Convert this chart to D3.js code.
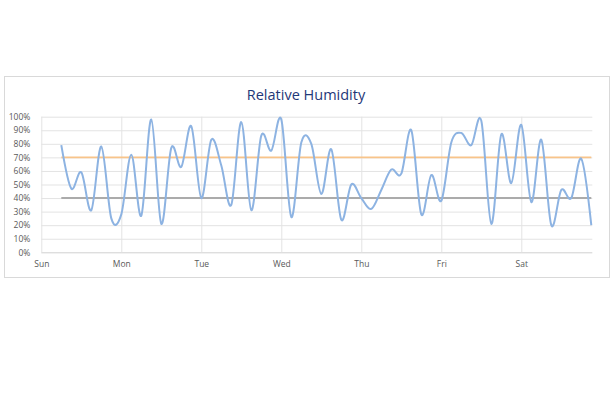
<!DOCTYPE html>
<html>
<head>
<meta charset="utf-8">
<script src="https://cdn.jsdelivr.net/npm/d3@7"></script>
<style>
  html, body { margin: 0; padding: 0; background: #fff; }
  svg { display: block; }
  text { font-family: "Open Sans", "Liberation Sans", sans-serif; }
</style>
</head>
<body>
<svg id="chart" width="612" height="396"></svg>
<script>
// ---- data ----
// hours since Sunday 00:00, every 3 hours from Sun 06:00 to Sat 21:00
const hours = d3.range(6, 166, 3);
const humidity = [
  79, 47, 59, 31, 78, 25, 28, 72, 27, 98,
  21, 77, 63, 93, 40, 83, 64, 35, 96, 31,
  86, 75, 98, 26, 81, 80, 43, 76, 24, 50,
  40, 32, 46, 61, 58, 90, 28, 57, 38, 81,
  88, 79, 97, 21, 87, 51, 94, 37, 83, 20,
  46, 40, 69, 20
];
const upperRef = 70;
const lowerRef = 40;
const dayLabels = ["Sun", "Mon", "Tue", "Wed", "Thu", "Fri", "Sat"];
const dayHours = [0, 24, 48, 72, 96, 120, 144];
const yTicks = [0, 10, 20, 30, 40, 50, 60, 70, 80, 90, 100];
const title = "Relative Humidity";

// ---- layout ----
const svg = d3.select("#chart");
const plot = { left: 41.3, right: 592.3, top: 116.7, bottom: 252.3 };

const x = d3.scaleLinear().domain([0, 165.3]).range([plot.left, plot.right]);
const y = d3.scaleLinear().domain([0, 100]).range([plot.bottom, plot.top]);

// chart border
svg.append("rect")
  .attr("x", 4.5).attr("y", 76.5)
  .attr("width", 605).attr("height", 201)
  .attr("fill", "#fff").attr("stroke", "#D9D9D9").attr("stroke-width", 1);

// title
svg.append("text")
  .attr("x", 306).attr("y", 100)
  .attr("text-anchor", "middle")
  .attr("font-size", 14.5)
  .attr("fill", "#1F3878")
  .text(title);

// horizontal gridlines
const yGrid = svg.append("g")
  .attr("transform", `translate(${plot.left},0)`)
  .call(d3.axisLeft(y).tickValues(yTicks).tickSize(-(plot.right - plot.left)).tickFormat(""));
yGrid.select(".domain").remove();
yGrid.selectAll(".tick line").attr("stroke", "#E3E3E3").attr("stroke-width", 1);
yGrid.selectAll(".tick").filter(d => d === 0).select("line").attr("stroke", "#D0D0D0");

// vertical gridlines
const xGrid = svg.append("g")
  .attr("transform", `translate(0,${plot.bottom})`)
  .call(d3.axisBottom(x).tickValues(dayHours).tickSize(-(plot.bottom - plot.top)).tickFormat(""));
xGrid.select(".domain").remove();
xGrid.selectAll(".tick line").attr("stroke", "#E3E3E3").attr("stroke-width", 1);

// y axis labels
const yAxis = svg.append("g")
  .attr("transform", `translate(${plot.left - 8},0)`)
  .call(d3.axisLeft(y).tickValues(yTicks).tickSize(0).tickFormat(d => d + "%"));
yAxis.select(".domain").remove();
yAxis.selectAll("text")
  .attr("font-family", "'Open Sans', 'Liberation Sans', sans-serif")
  .attr("font-size", 8.5).attr("fill", "#595959");

// x axis labels
const xAxis = svg.append("g")
  .attr("transform", `translate(0,${plot.bottom + 6})`)
  .call(d3.axisBottom(x).tickValues(dayHours).tickSize(0).tickFormat((d, i) => dayLabels[i]));
xAxis.select(".domain").remove();
xAxis.selectAll("text")
  .attr("font-family", "'Open Sans', 'Liberation Sans', sans-serif")
  .attr("font-size", 8.5).attr("fill", "#595959");

// reference lines
const refLine = d3.line().x(d => x(d[0])).y(d => y(d[1]));
svg.append("path")
  .datum(hours.map(h => [h, lowerRef]))
  .attr("d", refLine)
  .attr("fill", "none").attr("stroke", "#ABABAB").attr("stroke-width", 2);
svg.append("path")
  .datum(hours.map(h => [h, upperRef]))
  .attr("d", refLine)
  .attr("fill", "none").attr("stroke", "#F8C48A").attr("stroke-width", 1.6);

// humidity line
const line = d3.line()
  .x((d, i) => x(hours[i]))
  .y(d => y(d))
  .curve(d3.curveCardinal.tension(0));
svg.append("path")
  .datum(humidity)
  .attr("d", line)
  .attr("fill", "none")
  .attr("stroke", "#8DB3E2")
  .attr("stroke-width", 2)
  .attr("stroke-linejoin", "round");
</script>
</body>
</html>
